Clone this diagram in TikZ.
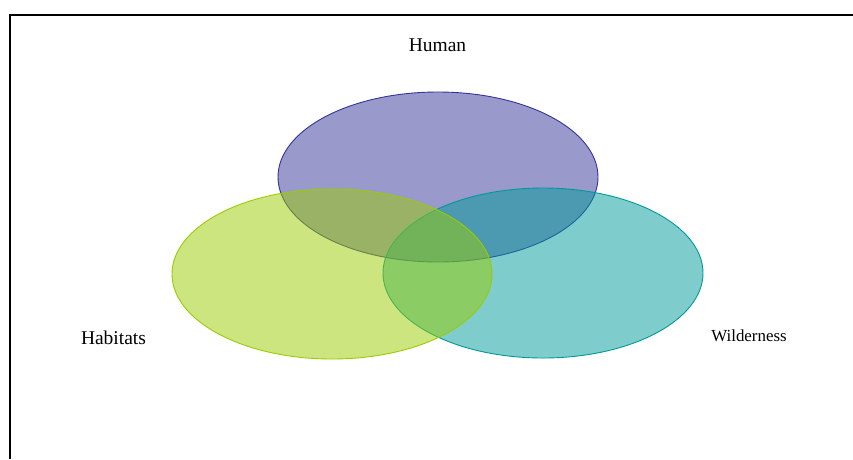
\documentclass[tikz,border=0pt]{standalone}
\usepackage{fontspec}
\setmainfont{Liberation Serif}
\definecolor{hum}{HTML}{333399}
\definecolor{hab}{HTML}{99CC00}
\definecolor{wil}{HTML}{009999}
\begin{document}
\begin{tikzpicture}[x=1pt,y=-1pt,
  setc/.style={draw=#1,fill=#1,fill opacity=0.5,line width=0.9pt},
  lbl/.style={font=\fontsize{19.5}{22}\selectfont,inner sep=0pt}]
\useasboundingbox (0,0) rectangle (853,459);
\draw[line width=2pt] (9.5,459) -- (9.5,14.5) -- (853,14.5);
\fill[setc=hum] (438,177) ellipse [x radius=160, y radius=85];
\fill[setc=wil] (543,273) ellipse [x radius=160, y radius=85];
\fill[setc=hab] (332,274) ellipse [x radius=160, y radius=85];
\node[lbl] (human) at (437.5,45.5) {Human};
\node[lbl] (habitats) at (113.5,337.5) {Habitats};
\node[lbl,font=\fontsize{16.9}{20}\selectfont] (wild) at (749,335.5) {Wilderness};
\end{tikzpicture}
\end{document}
